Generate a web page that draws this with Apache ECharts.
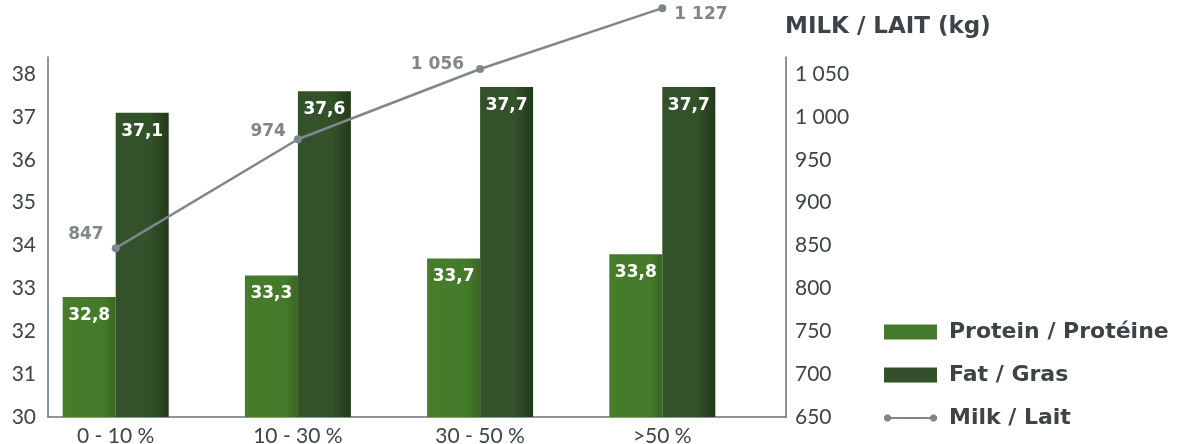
<!DOCTYPE html>
<html><head><meta charset="utf-8">
<script src="https://cdn.jsdelivr.net/npm/echarts@6/dist/echarts.min.js"></script>
<style>html,body{margin:0;padding:0;background:#fff}#c{width:1187px;height:444px}</style>
</head><body><div id="c"></div>
<script>
const categories = ['0 - 10 %', '10 - 30 %', '30 - 50 %', '>50 %'];
const protein = [32.8, 33.3, 33.7, 33.8];
const fat = [37.1, 37.6, 37.7, 37.7];
const milk = [847, 974, 1056, 1127];

// label placement for the milk points (style, not data)
const milkLabelLayout = [
  {position:'left', offset:[-2,-14]},
  {position:'left', offset:[-2,-8]},
  {position:'left', offset:[-6,-4]},
  {position:'right', offset:[2,6]}
];

const FONT = 'Lato, "Open Sans", sans-serif';
const BOLD = '"DejaVu Sans", Lato, sans-serif';
const DARK = '#3d4448';
const GREY = '#7f878c';
const fmtNum = v => { const s = String(Math.round(v)); return s.length > 3 ? s.slice(0, s.length - 3) + ' ' + s.slice(-3) : s; };
const fmtDec = v => v.toFixed(1).replace('.', ',');

const protGrad = {type:'linear',x:0,y:0,x2:1,y2:0,colorStops:[{offset:0,color:'#477c2b'},{offset:0.75,color:'#457a2a'},{offset:1,color:'#3a6623'}]};
const fatGrad = {type:'linear',x:0,y:0,x2:1,y2:0,colorStops:[{offset:0,color:'#34522a'},{offset:0.65,color:'#33512a'},{offset:1,color:'#233a19'}]};

const barLabel = {show:true, position:'insideTop', distance:10, color:'#fff', fontFamily:BOLD, fontWeight:'bold', fontSize:17, formatter:p=>fmtDec(p.value)};

// legend icon for the line: thin line with a dot at each end
const oct = (cx, cy, r) => { const k = r * 0.4142; return `M${cx-k},${cy-r}L${cx+k},${cy-r}L${cx+r},${cy-k}L${cx+r},${cy+k}L${cx+k},${cy+r}L${cx-k},${cy+r}L${cx-r},${cy+k}L${cx-r},${cy-k}Z`; };
const lineIcon = 'path://M0,0L0.01,0L0,0.01Z M0,15L0.01,15L0,14.99Z ' + oct(3.5, 7.5, 3.5) + ' ' + oct(49.5, 7.5, 3.5) + ' M3,6.6L50,6.6L50,8.4L3,8.4Z';

const chart = echarts.init(document.getElementById('c'));
chart.setOption({
  animation:false,
  title:{text:'MILK / LAIT (kg)', left:780, top:11, textStyle:{fontFamily:BOLD, fontWeight:'bold', fontSize:23, color:DARK}},
  grid:[
    {left:24.6, width:728.8, top:57, bottom:27, containLabel:false, outerBoundsMode:'none'},
    {left:48, right:401, top:57, bottom:27, containLabel:false, outerBoundsMode:'none'}
  ],
  xAxis:[
    {type:'category', gridIndex:0, data:categories, axisLine:{show:false}, axisTick:{show:false},
     axisLabel:{fontFamily:FONT, fontSize:21, color:DARK, margin:9}},
    {type:'value', gridIndex:1, min:0, max:1, axisLine:{show:true, lineStyle:{color:'#6b7175', width:1.5}}, axisTick:{show:false}, axisLabel:{show:false}, splitLine:{show:false}}
  ],
  yAxis:[
    {type:'value', gridIndex:0, min:30, max:38.4, interval:1, show:false},
    {type:'value', gridIndex:0, min:650, max:1070, interval:50, show:false},
    {type:'value', gridIndex:1, position:'left', min:30, max:38.4, interval:1, splitLine:{show:false}, axisTick:{show:false},
     axisLine:{show:true, lineStyle:{color:'#6b7175', width:1.5}},
     axisLabel:{fontFamily:FONT, fontSize:21, color:DARK, margin:12, showMaxLabel:false, formatter:v=>Number.isInteger(v)?String(v):''}},
    {type:'value', gridIndex:1, position:'right', min:650, max:1070, interval:50, splitLine:{show:false}, axisTick:{show:false},
     axisLine:{show:true, lineStyle:{color:'#6b7175', width:1.5}},
     axisLabel:{fontFamily:FONT, fontSize:21, color:DARK, margin:9, showMaxLabel:false, formatter:v=>(v%50===0)?fmtNum(v):''}}
  ],
  legend:{
    orient:'vertical', left:884, top:320, padding:0, itemWidth:53, itemHeight:15, itemGap:19,
    textStyle:{fontFamily:BOLD, fontWeight:'bold', fontSize:22, color:DARK, lineHeight:24, padding:[0,0,0,7]},
    data:[
      {name:'Protein / Protéine', icon:'rect', itemStyle:{color:'#467a2c'}},
      {name:'Fat / Gras', icon:'rect', itemStyle:{color:'#33502a'}},
      {name:'Milk / Lait', icon:lineIcon, itemStyle:{color:GREY}}
    ]
  },
  series:[
    {name:'Protein / Protéine', type:'bar', xAxisIndex:0, yAxisIndex:0, data:protein, barWidth:53, barGap:'0%', itemStyle:{color:protGrad}, label:barLabel},
    {name:'Fat / Gras', type:'bar', xAxisIndex:0, yAxisIndex:0, data:fat, barWidth:53, barGap:'0%', itemStyle:{color:fatGrad}, label:barLabel},
    {name:'Milk / Lait', type:'line', xAxisIndex:0, yAxisIndex:1, clip:false, z:5,
     data:milk.map((v,i)=>({value:v, label:milkLabelLayout[i]})),
     symbol:'circle', symbolSize:8, lineStyle:{color:GREY, width:2.5}, itemStyle:{color:GREY},
     label:{show:true, fontFamily:BOLD, fontWeight:'bold', fontSize:17, color:GREY, distance:6, formatter:p=>fmtNum(p.value)}}
  ]
});
</script></body></html>
